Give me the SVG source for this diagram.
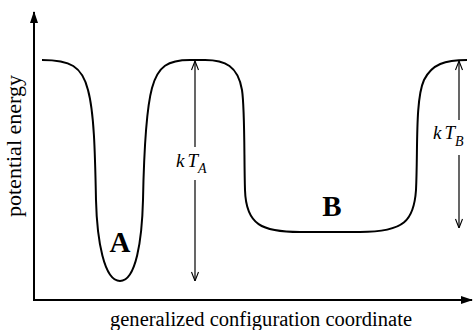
<svg xmlns="http://www.w3.org/2000/svg" width="474" height="330" viewBox="0 0 474 330">
<style>
text{font-family:"Liberation Serif","Times New Roman",serif;fill:#000}
.ax{stroke:#000;stroke-width:2;fill:none}
.cv{stroke:#000;stroke-width:2;fill:none;stroke-linejoin:round}
.ar{stroke:#000;stroke-width:1.2;fill:none}
.kt{font-style:italic;font-size:19px}
.sub{font-style:italic;font-size:14px}
.lbl{font-weight:bold;font-size:29px}
</style>
<defs>
<marker id="ah" viewBox="0 0 10 10" refX="10" refY="5" markerWidth="10" markerHeight="10" markerUnits="userSpaceOnUse" orient="auto">
<path d="M1,1.5 L10,5 L1,8.5" stroke="#000" stroke-width="1.1" fill="none"/>
</marker>
<marker id="axh" viewBox="0 0 12 10" refX="11" refY="5" markerWidth="12" markerHeight="10" markerUnits="userSpaceOnUse" orient="auto">
<path d="M0,1 L12,5 L0,9 Z" fill="#000"/>
</marker>
</defs>
<g id="axes">
<path class="ax" d="M34,300 L34,12" marker-end="url(#axh)"/>
<path class="ax" d="M33,300 L472,300" marker-end="url(#axh)"/>
<text x="21" y="146" font-size="20" text-anchor="middle" transform="rotate(-90 21 146)" textLength="142" lengthAdjust="spacingAndGlyphs">potential energy</text>
<text x="261" y="326" font-size="20" text-anchor="middle" textLength="302" lengthAdjust="spacingAndGlyphs">generalized configuration coordinate</text>
</g>
<g id="curve">
<path class="cv" d="M42,60 C70,60 82,66 88,90 C94,112 95,150 96,200 C97,240 104,281 120,281 C136,281 142,240 143,200 C144,150 146,110 152,88 C158,66 168,60 190,60 L205,60 C225,60 238,66 242,90 C245,110 244,160 245,190 C246,225 262,232 300,232 L360,232 C405,232 414,220 416,190 C418,150 415,100 424,80 C432,64 445,60 467,60"/>
</g>
<g id="wellA"><text class="lbl" x="120" y="252" text-anchor="middle">A</text></g>
<g id="wellB"><text class="lbl" x="332" y="216" text-anchor="middle">B</text></g>
<g id="connectors">
<path class="ar" d="M195,147 L195,61" marker-end="url(#ah)"/>
<path class="ar" d="M195,180 L195,281" marker-end="url(#ah)"/>
<path class="ar" d="M459,120 L459,61" marker-end="url(#ah)"/>
<path class="ar" d="M459,155 L459,228" marker-end="url(#ah)"/>
</g>
<g id="kTA"><text class="kt" x="176" y="167">k<tspan dx="3">T</tspan><tspan class="sub" dx="0" dy="6">A</tspan></text></g>
<g id="kTB"><text class="kt" x="433" y="139">k<tspan dx="3">T</tspan><tspan class="sub" dx="0" dy="7">B</tspan></text></g>
</svg>
